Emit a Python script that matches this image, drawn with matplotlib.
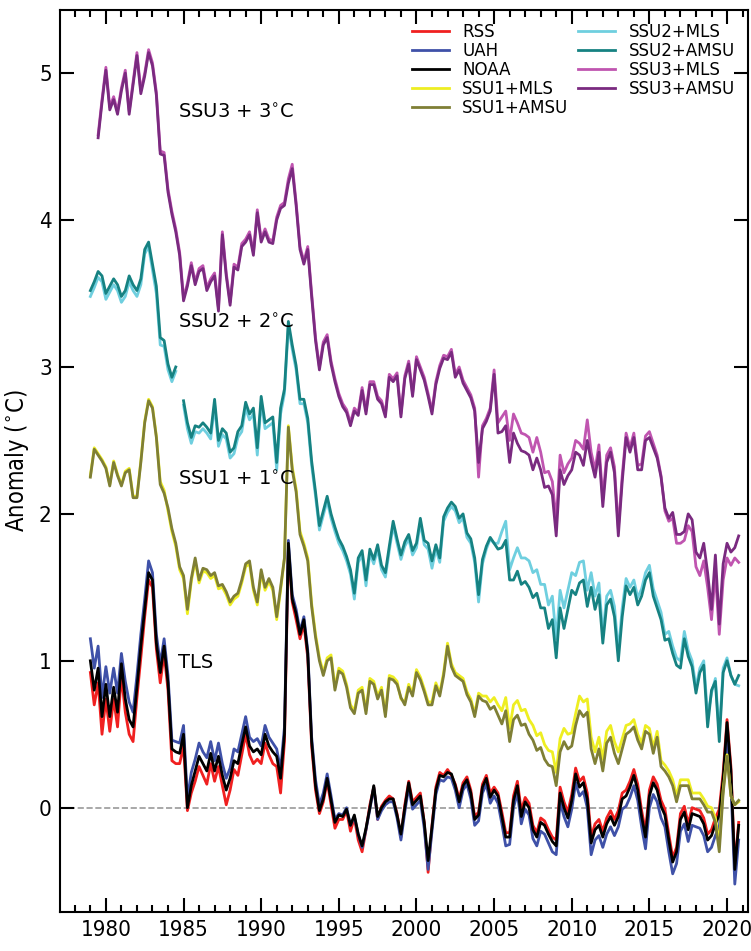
import numpy as np
import matplotlib
matplotlib.use('Agg')
import matplotlib.pyplot as plt
from matplotlib.ticker import MultipleLocator

nan = np.nan

# quarterly time axis, 1979.00 .. 2020.75
years = np.arange(1979, 2021, 0.25)

# TLS anomalies (degC)
rss = [0.92, 0.70, 0.85, 0.50,  0.74, 0.52, 0.74, 0.55,  0.90, 0.65, 0.50, 0.45,
       0.75, 1.02, 1.30, 1.55,  1.50, 1.08, 0.85, 1.05,  0.80, 0.32, 0.30, 0.30,
       0.42, -0.02, 0.10, 0.18,  0.28, 0.22, 0.16, 0.30,  0.18, 0.28, 0.15, 0.02,
       0.12, 0.26, 0.22, 0.36,  0.50, 0.36, 0.30, 0.33,  0.30, 0.44, 0.36, 0.30,
       0.28, 0.10, 0.45, 1.75,  1.40, 1.28, 1.15, 1.25,  1.02, 0.42, 0.12, -0.04,
       0.04, 0.18, 0.02, -0.14,  -0.08, -0.08, -0.02, -0.16,  -0.07, -0.22, -0.30, -0.15,
       0.02, 0.14, -0.08, 0.01,  0.05, 0.08, 0.06, -0.04,  -0.20, 0.02, 0.18, 0.04,
       0.07, 0.10, -0.10, -0.44,  -0.12, 0.14, 0.24, 0.22,  0.26, 0.22, 0.16, 0.06,
       0.17, 0.21, 0.12, -0.06,  -0.03, 0.16, 0.22, 0.10,  0.14, 0.10, -0.03, -0.17,
       -0.17, 0.08, 0.18, -0.02,  0.07, 0.03, -0.12, -0.17,  -0.07, -0.09, -0.15, -0.20,
       -0.22, 0.14, 0.04, -0.03,  0.09, 0.27, 0.18, 0.21,  0.10, -0.20, -0.11, -0.08,
       -0.16, -0.07, -0.02, -0.08,  -0.02, 0.10, 0.12, 0.18,  0.26, 0.16, -0.02, -0.16,
       0.12, 0.21, 0.16, 0.05,  -0.01, -0.18, -0.34, -0.27,  -0.04, 0.01, -0.11, 0.00,
       -0.01, -0.02, -0.07, -0.18,  -0.15, -0.07, -0.01, 0.24,  0.60, 0.28, -0.40, -0.10]

uah = [1.15, 0.95, 1.10, 0.75,  0.96, 0.78, 0.95, 0.78,  1.05, 0.86, 0.72, 0.65,
       0.90, 1.18, 1.42, 1.68,  1.60, 1.18, 0.98, 1.15,  0.90, 0.46, 0.45, 0.44,
       0.56, 0.06, 0.24, 0.33,  0.44, 0.38, 0.34, 0.45,  0.32, 0.44, 0.30, 0.20,
       0.27, 0.40, 0.38, 0.50,  0.62, 0.48, 0.45, 0.47,  0.42, 0.56, 0.48, 0.44,
       0.40, 0.26, 0.55, 1.82,  1.45, 1.35, 1.20, 1.30,  1.07, 0.48, 0.19, 0.02,
       0.10, 0.23, 0.08, -0.08,  -0.04, -0.05, 0.00, -0.12,  -0.06, -0.18, -0.27, -0.15,
       -0.01, 0.14, -0.08, -0.02,  0.02, 0.04, 0.04, -0.07,  -0.22, -0.03, 0.14, -0.01,
       0.02, 0.05, -0.14, -0.42,  -0.16, 0.09, 0.19, 0.18,  0.21, 0.20, 0.12, 0.00,
       0.12, 0.16, 0.06, -0.12,  -0.09, 0.10, 0.16, 0.03,  0.08, 0.03, -0.11, -0.26,
       -0.25, 0.00, 0.10, -0.11,  -0.01, -0.05, -0.21, -0.26,  -0.16, -0.18, -0.24, -0.30,
       -0.32, 0.04, -0.06, -0.13,  -0.01, 0.17, 0.08, 0.11,  0.00, -0.32, -0.22, -0.19,
       -0.27, -0.18, -0.13, -0.19,  -0.13, -0.01, 0.01, 0.07,  0.15, 0.05, -0.13, -0.28,
       0.00, 0.09, 0.04, -0.07,  -0.13, -0.30, -0.45, -0.38,  -0.16, -0.11, -0.23, -0.12,
       -0.13, -0.14, -0.19, -0.30,  -0.27, -0.19, -0.13, 0.12,  0.50, 0.17, -0.52, -0.22]

noaa = [1.00, 0.80, 0.95, 0.62,  0.84, 0.62, 0.82, 0.65,  0.98, 0.74, 0.60, 0.55,
        0.82, 1.10, 1.35, 1.60,  1.55, 1.12, 0.92, 1.10,  0.85, 0.40, 0.38, 0.37,
        0.50, 0.00, 0.15, 0.25,  0.35, 0.30, 0.25, 0.37,  0.25, 0.35, 0.22, 0.12,
        0.20, 0.32, 0.30, 0.43,  0.55, 0.42, 0.38, 0.40,  0.36, 0.50, 0.42, 0.38,
        0.35, 0.20, 0.50, 1.80,  1.42, 1.32, 1.18, 1.28,  1.05, 0.45, 0.15, -0.02,
        0.06, 0.20, 0.05, -0.10,  -0.05, -0.06, -0.01, -0.12,  -0.05, -0.18, -0.26, -0.14,
        0.00, 0.15, -0.06, 0.00,  0.04, 0.06, 0.06, -0.05,  -0.18, 0.00, 0.17, 0.02,
        0.05, 0.08, -0.10, -0.36,  -0.13, 0.12, 0.22, 0.21,  0.24, 0.23, 0.15, 0.04,
        0.15, 0.19, 0.10, -0.08,  -0.05, 0.14, 0.20, 0.07,  0.12, 0.08, -0.06, -0.20,
        -0.20, 0.05, 0.15, -0.06,  0.04, 0.00, -0.15, -0.20,  -0.10, -0.12, -0.18, -0.23,
        -0.26, 0.10, 0.00, -0.07,  0.05, 0.23, 0.14, 0.17,  0.06, -0.24, -0.15, -0.12,
        -0.20, -0.11, -0.06, -0.12,  -0.06, 0.06, 0.08, 0.14,  0.22, 0.12, -0.06, -0.20,
        0.08, 0.17, 0.12, 0.01,  -0.05, -0.22, -0.37, -0.30,  -0.08, -0.03, -0.15, -0.04,
        -0.05, -0.06, -0.11, -0.22,  -0.19, -0.11, -0.05, 0.20,  0.58, 0.25, -0.42, -0.12]

# SSU1 anomalies (degC), plotted with +1
ssu1_mls = [1.26, 1.45, 1.41, 1.37,  1.32, 1.20, 1.36, 1.27,  1.20, 1.29, 1.31, 1.12,
            1.12, 1.36, 1.63, 1.78,  1.73, 1.53, 1.22, 1.16,  1.02, 0.88, 0.78, 0.62,
            0.56, 0.32, 0.54, 0.68,  0.53, 0.61, 0.60, 0.56,  0.58, 0.49, 0.50, 0.45,
            0.38, 0.42, 0.44, 0.53,  0.64, 0.66, 0.48, 0.38,  0.60, 0.48, 0.54, 0.48,
            0.28, 0.48, 0.70, 1.60,  1.32, 1.17, 0.88, 0.80,  0.70, 0.39, 0.18, 0.02,
            -0.08, 0.02, 0.04, -0.18,  -0.05, -0.07, -0.16, -0.30,  -0.34, -0.20, -0.18, -0.34,
            -0.12, -0.14, -0.24, -0.18,  -0.36, -0.10, -0.11, -0.14,  -0.26, -0.28, -0.16, -0.22,
            -0.06, -0.11, -0.19, -0.28,  -0.28, -0.15, -0.22, -0.08,  0.12, -0.02, -0.08, -0.10,
            -0.12, -0.21, -0.26, -0.36,  -0.22, -0.24, -0.24, -0.28,  -0.25, -0.30, -0.34, -0.25,
            -0.46, -0.30, -0.27, -0.34,  -0.33, -0.40, -0.44, -0.51,  -0.49, -0.57, -0.61, -0.62,
            -0.76, -0.53, -0.46, -0.50,  -0.49, -0.36, -0.24, -0.28,  -0.26, -0.52, -0.62, -0.52,
            -0.67, -0.48, -0.44, -0.55,  -0.62, -0.53, -0.44, -0.43,  -0.40, -0.50, -0.56, -0.44,
            -0.46, -0.59, -0.48, -0.68,  -0.71, -0.75, -0.81, -0.92,  -0.81, -0.81, -0.81, -0.90,
            -0.90, -0.90, -0.94, -0.99,  -1.00, -1.07, -1.25, -0.88,  -0.64, -0.92, -0.98, -0.96]

ssu1_amsu = [1.25, 1.44, 1.40, 1.36,  1.31, 1.19, 1.35, 1.26,  1.19, 1.28, 1.30, 1.11,
             1.11, 1.35, 1.62, 1.77,  1.72, 1.52, 1.20, 1.14,  1.04, 0.90, 0.80, 0.64,
             0.58, 0.35, 0.56, 0.70,  0.55, 0.63, 0.62, 0.58,  0.60, 0.51, 0.52, 0.47,
             0.40, 0.44, 0.46, 0.55,  0.66, 0.68, 0.50, 0.40,  0.62, 0.50, 0.56, 0.50,
             0.30, 0.50, 0.70, 1.59,  1.30, 1.15, 0.86, 0.78,  0.68, 0.37, 0.16, 0.00,
             -0.10, 0.00, 0.02, -0.20,  -0.07, -0.09, -0.18, -0.32,  -0.36, -0.22, -0.20, -0.36,
             -0.14, -0.16, -0.26, -0.20,  -0.38, -0.12, -0.13, -0.16,  -0.25, -0.30, -0.18, -0.24,
             -0.08, -0.13, -0.21, -0.30,  -0.30, -0.17, -0.24, -0.10,  0.10, -0.04, -0.10, -0.12,
             -0.14, -0.23, -0.28, -0.38,  -0.24, -0.27, -0.28, -0.33,  -0.31, -0.37, -0.43, -0.34,
             -0.55, -0.40, -0.37, -0.44,  -0.43, -0.50, -0.54, -0.61,  -0.59, -0.67, -0.71, -0.72,
             -0.85, -0.62, -0.55, -0.60,  -0.58, -0.44, -0.34, -0.38,  -0.35, -0.60, -0.70, -0.60,
             -0.75, -0.56, -0.52, -0.63,  -0.70, -0.60, -0.50, -0.48,  -0.45, -0.54, -0.60, -0.48,
             -0.50, -0.63, -0.52, -0.72,  -0.75, -0.79, -0.85, -0.96,  -0.85, -0.85, -0.85, -0.94,
             -0.94, -0.94, -0.98, -1.03,  -1.03, -1.10, -1.30, -0.90,  -0.65, -0.92, -0.98, -0.95]

# SSU2 anomalies (degC), plotted with +2
ssu2_mls = [1.48, 1.54, 1.61, 1.58,  1.46, 1.51, 1.56, 1.52,  1.44, 1.48, 1.58, 1.52,
            1.48, 1.56, 1.77, 1.82,  1.66, 1.50, 1.15, 1.14,  0.98, 0.90, 0.97, nan,
            0.74, 0.58, 0.48, 0.56,  0.55, 0.58, 0.55, 0.51,  0.74, 0.46, 0.54, 0.51,
            0.38, 0.41, 0.52, 0.56,  0.72, 0.64, 0.68, 0.40,  0.76, 0.58, 0.60, 0.62,
            0.30, 0.68, 0.82, 1.28,  1.12, 0.98, 0.75, 0.75,  0.62, 0.33, 0.12, -0.11,
            -0.01, 0.09, -0.03, -0.12,  -0.20, -0.25, -0.32, -0.41,  -0.58, -0.33, -0.28, -0.49,
            -0.27, -0.34, -0.24, -0.38,  -0.43, -0.25, -0.08, -0.20,  -0.31, -0.22, -0.17, -0.28,
            -0.23, -0.06, -0.21, -0.24,  -0.37, -0.24, -0.33, -0.05,  0.01, 0.05, 0.02, -0.06,
            -0.03, -0.16, -0.20, -0.33,  -0.60, -0.34, -0.24, -0.17,  -0.20, -0.20, -0.12, -0.05,
            -0.38, -0.30, -0.23, -0.30,  -0.30, -0.32, -0.40, -0.38,  -0.48, -0.48, -0.62, -0.56,
            -0.85, -0.52, -0.64, -0.52,  -0.40, -0.42, -0.33, -0.32,  -0.52, -0.40, -0.56, -0.47,
            -0.82, -0.56, -0.52, -0.63,  -0.94, -0.64, -0.44, -0.50,  -0.45, -0.57, -0.51, -0.40,
            -0.35, -0.51, -0.59, -0.67,  -0.82, -0.80, -0.90, -0.98,  -1.00, -0.80, -0.93, -1.00,
            -1.18, -1.05, -1.00, -1.38,  -1.22, -1.12, -1.50, -1.05,  -0.98, -1.10, -1.16, -1.17]

ssu2_amsu = [1.52, 1.58, 1.65, 1.62,  1.50, 1.55, 1.60, 1.56,  1.48, 1.52, 1.62, 1.56,
             1.52, 1.60, 1.80, 1.85,  1.70, 1.55, 1.20, 1.18,  1.02, 0.93, 1.00, nan,
             0.77, 0.62, 0.52, 0.60,  0.59, 0.62, 0.59, 0.55,  0.78, 0.50, 0.58, 0.55,
             0.42, 0.45, 0.56, 0.60,  0.76, 0.68, 0.72, 0.45,  0.80, 0.62, 0.64, 0.66,
             0.35, 0.72, 0.85, 1.31,  1.15, 1.01, 0.78, 0.78,  0.65, 0.36, 0.15, -0.08,
             0.02, 0.12, 0.00, -0.09,  -0.17, -0.22, -0.29, -0.38,  -0.54, -0.30, -0.25, -0.45,
             -0.24, -0.31, -0.21, -0.35,  -0.40, -0.22, -0.05, -0.17,  -0.28, -0.19, -0.14, -0.25,
             -0.20, -0.03, -0.18, -0.20,  -0.32, -0.21, -0.30, -0.02,  0.04, 0.08, 0.05, -0.03,
             0.00, -0.13, -0.17, -0.30,  -0.55, -0.31, -0.22, -0.16,  -0.20, -0.24, -0.23, -0.18,
             -0.45, -0.45, -0.39, -0.48,  -0.46, -0.50, -0.57, -0.54,  -0.64, -0.64, -0.78, -0.72,
             -0.98, -0.64, -0.78, -0.65,  -0.52, -0.55, -0.47, -0.45,  -0.63, -0.50, -0.65, -0.55,
             -0.88, -0.62, -0.58, -0.70,  -1.00, -0.70, -0.49, -0.55,  -0.50, -0.62, -0.56, -0.45,
             -0.40, -0.56, -0.64, -0.72,  -0.86, -0.85, -0.95, -1.03,  -1.05, -0.85, -0.97, -1.04,
             -1.22, -1.08, -1.03, -1.45,  -1.20, -1.14, -1.55, -1.08,  -1.00, -1.10, -1.16, -1.10]

# SSU3 anomalies (degC), plotted with +3
ssu3_mls = [nan, nan, 1.58, 1.82,  2.04, 1.77, 1.84, 1.74,  1.90, 2.02, 1.74, 1.94,
            2.14, 1.88, 2.00, 2.16,  2.07, 1.87, 1.47, 1.46,  1.21, 1.06, 0.94, 0.78,
            0.47, 0.57, 0.71, 0.58,  0.67, 0.69, 0.54, 0.60,  0.64, 0.40, 0.92, 0.64,
            0.44, 0.70, 0.68, 0.84,  0.87, 0.92, 0.78, 1.07,  0.87, 0.94, 0.87, 0.86,
            1.02, 1.10, 1.12, 1.28,  1.38, 1.12, 0.82, 0.72,  0.82, 0.50, 0.20, 0.00,
            0.17, 0.22, 0.04, -0.08,  -0.18, -0.25, -0.29, -0.38,  -0.28, -0.31, -0.14, -0.30,
            -0.10, -0.10, -0.20, -0.23,  -0.32, -0.05, -0.08, -0.04,  -0.32, -0.06, 0.04, -0.18,
            0.07, 0.00, -0.07, -0.18,  -0.30, -0.10, 0.01, 0.08,  0.07, 0.12, -0.05, 0.00,
            -0.09, -0.14, -0.19, -0.28,  -0.75, -0.40, -0.35, -0.28,  -0.02, -0.38, -0.34, -0.30,
            -0.50, -0.32, -0.38, -0.45,  -0.46, -0.48, -0.58, -0.48,  -0.58, -0.72, -0.71, -0.78,
            -1.05, -0.60, -0.72, -0.66,  -0.62, -0.50, -0.52, -0.56,  -0.36, -0.58, -0.70, -0.53,
            -0.90, -0.60, -0.55, -0.68,  -1.10, -0.74, -0.45, -0.55,  -0.45, -0.67, -0.66, -0.47,
            -0.44, -0.52, -0.60, -0.74,  -0.98, -1.05, -1.03, -1.20,  -1.20, -1.18, -1.08, -1.12,
            -1.36, -1.42, -1.32, -1.50,  -1.72, -1.40, -1.82, -1.45,  -1.30, -1.35, -1.30, -1.33]

ssu3_amsu = [nan, nan, 1.56, 1.80,  2.02, 1.75, 1.82, 1.72,  1.88, 2.00, 1.72, 1.92,
             2.12, 1.86, 1.98, 2.14,  2.05, 1.85, 1.45, 1.44,  1.19, 1.04, 0.92, 0.76,
             0.45, 0.55, 0.69, 0.56,  0.65, 0.67, 0.52, 0.58,  0.62, 0.38, 0.90, 0.62,
             0.42, 0.68, 0.66, 0.82,  0.85, 0.90, 0.76, 1.05,  0.85, 0.92, 0.85, 0.84,
             1.00, 1.08, 1.10, 1.25,  1.35, 1.10, 0.80, 0.70,  0.80, 0.48, 0.18, -0.02,
             0.15, 0.20, 0.02, -0.10,  -0.20, -0.27, -0.31, -0.40,  -0.30, -0.33, -0.16, -0.32,
             -0.12, -0.12, -0.22, -0.25,  -0.34, -0.07, -0.10, -0.06,  -0.34, -0.08, 0.02, -0.20,
             0.05, -0.02, -0.09, -0.20,  -0.32, -0.12, -0.01, 0.06,  0.05, 0.10, -0.07, -0.02,
             -0.11, -0.16, -0.21, -0.30,  -0.65, -0.42, -0.37, -0.30,  -0.05, -0.45, -0.44, -0.40,
             -0.65, -0.45, -0.52, -0.57,  -0.58, -0.60, -0.70, -0.62,  -0.70, -0.82, -0.81, -0.87,
             -1.15, -0.70, -0.80, -0.74,  -0.70, -0.58, -0.60, -0.67,  -0.50, -0.64, -0.75, -0.58,
             -0.95, -0.65, -0.58, -0.72,  -1.15, -0.78, -0.48, -0.58,  -0.48, -0.70, -0.70, -0.50,
             -0.48, -0.55, -0.62, -0.75,  -0.96, -1.03, -0.99, -1.14,  -1.14, -1.12, -1.00, -1.04,
             -1.26, -1.30, -1.20, -1.40,  -1.65, -1.28, -1.75, -1.34,  -1.20, -1.26, -1.23, -1.15]

fig = plt.figure(figsize=(7.51, 9.51), dpi=100)
ax = fig.add_axes([0.080, 0.041, 0.916, 0.9485])

lw = 2.0
ax.axhline(0, color='#999999', ls='--', lw=1.2, zorder=0)
ax.plot(years, np.array(rss), color='#f02020', lw=lw, label='RSS')
ax.plot(years, np.array(uah), color='#3f51a8', lw=lw, label='UAH')
ax.plot(years, np.array(noaa), color='black', lw=lw, label='NOAA')
ax.plot(years, np.array(ssu1_mls) + 1, color='#eeee22', lw=lw, label='SSU1+MLS')
ax.plot(years, np.array(ssu1_amsu) + 1, color='#7f7f35', lw=lw, label='SSU1+AMSU')
ax.plot(years, np.array(ssu2_mls) + 2, color='#6fcfdf', lw=lw, label='SSU2+MLS')
ax.plot(years, np.array(ssu2_amsu) + 2, color='#168282', lw=lw, label='SSU2+AMSU')
ax.plot(years, np.array(ssu3_mls) + 3, color='#c055b0', lw=lw, label='SSU3+MLS')
ax.plot(years, np.array(ssu3_amsu) + 3, color='#7a2a80', lw=lw, label='SSU3+AMSU')

ax.text(1984.65, 4.73, 'SSU3 + 3$^{\\circ}$C', fontsize=14, va='center')
ax.text(1984.65, 3.30, 'SSU2 + 2$^{\\circ}$C', fontsize=14, va='center')
ax.text(1984.65, 2.23, 'SSU1 + 1$^{\\circ}$C', fontsize=14, va='center')
ax.text(1984.65, 0.99, 'TLS', fontsize=14, va='center')

ax.set_xlim(1977.05, 2021.35)
ax.set_ylim(-0.71, 5.43)
ax.xaxis.set_major_locator(MultipleLocator(5))
ax.xaxis.set_minor_locator(MultipleLocator(1))
ax.set_yticks(range(0, 6))
ax.tick_params(which='both', direction='in', top=True, right=True, width=1.5,
               labelsize=16, pad=6)
ax.tick_params(which='major', length=10)
ax.tick_params(which='minor', length=5)
for lbl in ax.get_xticklabels() + ax.get_yticklabels():
    lbl.set_fontstretch('condensed')
for s in ax.spines.values():
    s.set_linewidth(1.5)
ax.set_ylabel('Anomaly ($^{\\circ}$C)', fontsize=17, fontstretch='condensed', labelpad=6)

ax.legend(loc='upper right', ncol=2, frameon=False, fontsize=12,
          handlelength=2.2, labelspacing=0.05, columnspacing=0.6,
          handletextpad=0.8, borderaxespad=0.4)

fig.savefig('out.png', dpi=100)
